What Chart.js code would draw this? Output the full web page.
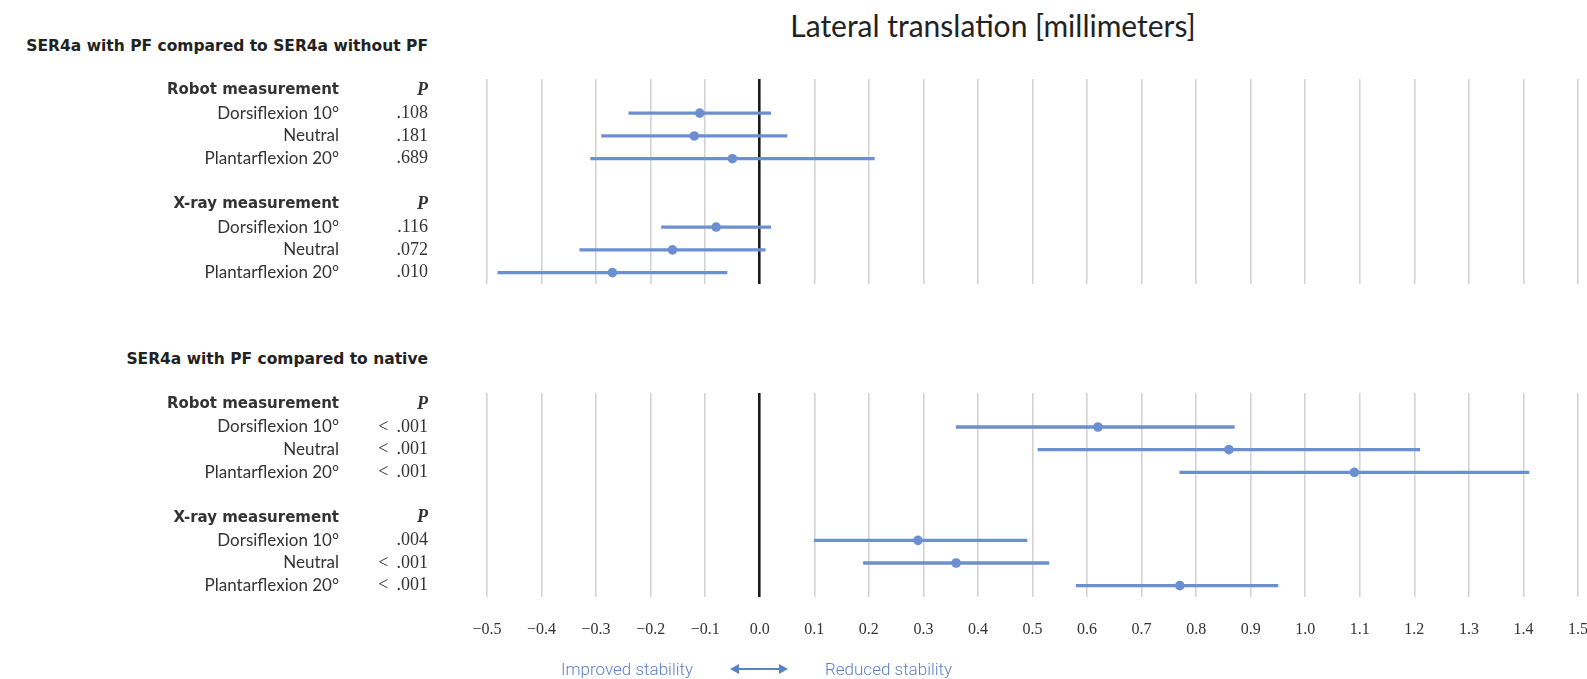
<!DOCTYPE html>
<html><head><meta charset="utf-8">
<script src="https://cdn.jsdelivr.net/npm/chart.js@4.4.0/dist/chart.umd.min.js"></script>
<style>
html,body{margin:0;padding:0;background:#fff;width:1587px;height:679px;overflow:hidden;}
canvas{position:absolute;left:0;top:0;}
.txt{position:absolute;white-space:nowrap;}
#title{left:693px;width:600px;top:6px;text-align:center;font:30px Lato,"Open Sans",sans-serif;color:#222;line-height:38px;}
.sec{right:1159px;text-align:right;font:bold 15.5px "DejaVu Sans",sans-serif;color:#222;line-height:20px;}
.leg{top:658px;font:300 17px Roboto,sans-serif;color:#5b82c8;line-height:22px;}
</style></head>
<body>
<div id="title" class="txt">Lateral translation [millimeters]</div>
<div class="txt sec" style="top:36px">SER4a with PF compared to SER4a without PF</div>
<div class="txt sec" style="top:349px">SER4a with PF compared to native</div>
<canvas id="cA" width="1587" height="679"></canvas>
<canvas id="cB" width="1587" height="679"></canvas>
<div class="txt leg" style="left:561px">Improved stability</div>
<svg style="position:absolute;left:730px;top:662px" width="58" height="14">
  <line x1="6" y1="7" x2="52" y2="7" stroke="#5b82c8" stroke-width="2"/>
  <polygon points="0,7 9,2 9,12" fill="#5b82c8"/>
  <polygon points="58,7 49,2 49,12" fill="#5b82c8"/>
</svg>
<div class="txt leg" style="left:825px">Reduced stability</div>
<script>
const rowLabels = ['Robot measurement','Dorsiflexion 10°','Neutral','Plantarflexion 20°','','X-ray measurement','Dorsiflexion 10°','Neutral','Plantarflexion 20°'];
const headerRows = [0, 5];
const xTickMin = -0.5, xTickMax = 1.5, xTickStep = 0.1;

// Panel A: SER4a with PF compared to SER4a without PF
const pValuesA = ['P','.108','.181','.689','','P','.116','.072','.010'];
const meanA = [null,-0.11,-0.12,-0.05,null,null,-0.08,-0.16,-0.27];
const lowA  = [null,-0.24,-0.29,-0.31,null,null,-0.18,-0.33,-0.48];
const highA = [null, 0.02, 0.05, 0.21,null,null, 0.02, 0.01,-0.06];

// Panel B: SER4a with PF compared to native
const pValuesB = ['P','< .001','< .001','< .001','','P','.004','< .001','< .001'];
const meanB = [null,0.62,0.86,1.09,null,null,0.29,0.36,0.77];
const lowB  = [null,0.36,0.51,0.77,null,null,0.10,0.19,0.58];
const highB = [null,0.87,1.21,1.41,null,null,0.49,0.53,0.95];

const BLUE = '#6b8fd1';
const SANS = 'Lato, "Open Sans", sans-serif';
const BOLDSANS = '"DejaVu Sans", sans-serif';
const SERIF = '"Liberation Serif", "DejaVu Serif", serif';

const pPlugin = {
  id: 'pcol',
  afterDraw(chart, args, opts) {
    const ys = chart.scales.y, ctx = chart.ctx;
    ctx.save();
    ctx.textAlign = 'right';
    ctx.textBaseline = 'middle';
    ctx.fillStyle = '#333';
    opts.values.forEach((v, i) => {
      if (!v) return;
      const y = ys.getPixelForTick(i);
      if (v === 'P') {
        ctx.font = 'italic bold 18px ' + SERIF;
        ctx.fillText(v, 428, y);
      } else if (v.startsWith('<')) {
        ctx.font = '18px ' + SERIF;
        const num = v.slice(1).trim();
        ctx.fillText(num, 428, y);
        const w = ctx.measureText(num).width;
        ctx.fillText('<', 428 - w - 8, y);
      } else {
        ctx.font = '18px ' + SERIF;
        ctx.fillText(v, 428, y);
      }
    });
    ctx.restore();
  }
};

function isZero(v){ return Math.abs(v) < 1e-9; }

function makeChart(id, mean, low, high, pvals, showTicks, padTop, padBottom) {
  const ranges = low.map((l, i) => (l === null ? null : [l, high[i]]));
  return new Chart(document.getElementById(id), {
    type: 'bar',
    data: {
      labels: rowLabels,
      datasets: [
        { type: 'bar', data: ranges, backgroundColor: BLUE, barThickness: 2.6, borderWidth: 0, borderSkipped: false, indexAxis: 'y', order: 2 },
        { type: 'line', data: mean, showLine: false, pointRadius: 4.8, pointBackgroundColor: BLUE, pointBorderWidth: 0, indexAxis: 'y', order: 1 }
      ]
    },
    options: {
      indexAxis: 'y',
      responsive: false,
      animation: false,
      layout: { padding: { left: 0, right: 9, top: padTop, bottom: padBottom } },
      plugins: { legend: { display: false }, tooltip: { enabled: false }, pcol: { values: pvals } },
      scales: {
        x: {
          type: 'linear', min: xTickMin, max: xTickMax,
          border: { display: false },
          grid: {
            drawTicks: false,
            color: (c) => (c.tick && isZero(c.tick.value) ? '#1a1a1a' : '#d3d3d3'),
            lineWidth: (c) => (c.tick && isZero(c.tick.value) ? 2.6 : 1.6)
          },
          ticks: {
            display: showTicks, stepSize: xTickStep, autoSkip: false, maxRotation: 0,
            padding: 23, color: '#333',
            font: { family: SERIF, size: 16 },
            callback: (v) => { const s = Math.abs(v).toFixed(1); return v < -1e-9 ? '\u2212' + s : s; }
          },
          afterFit: (s) => { s.height = showTicks ? 52 : 0; s.paddingLeft = 0; s.paddingRight = 0; }
        },
        y: {
          type: 'category',
          border: { display: false },
          grid: { display: false, drawTicks: false },
          ticks: {
            padding: 148, color: '#333', autoSkip: false,
            font: (c) => headerRows.includes(c.index)
              ? { family: BOLDSANS, size: 15, weight: 'bold' }
              : { family: SANS, size: 17, weight: 'normal' }
          },
          afterFit: (s) => { s.width = 487; s.paddingTop = 0; s.paddingBottom = 0; }
        }
      }
    },
    plugins: [pPlugin]
  });
}

makeChart('cA', meanA, lowA, highA, pValuesA, false, 79, 395);
makeChart('cB', meanB, lowB, highB, pValuesB, true, 393, 30);
</script>
</body></html>
